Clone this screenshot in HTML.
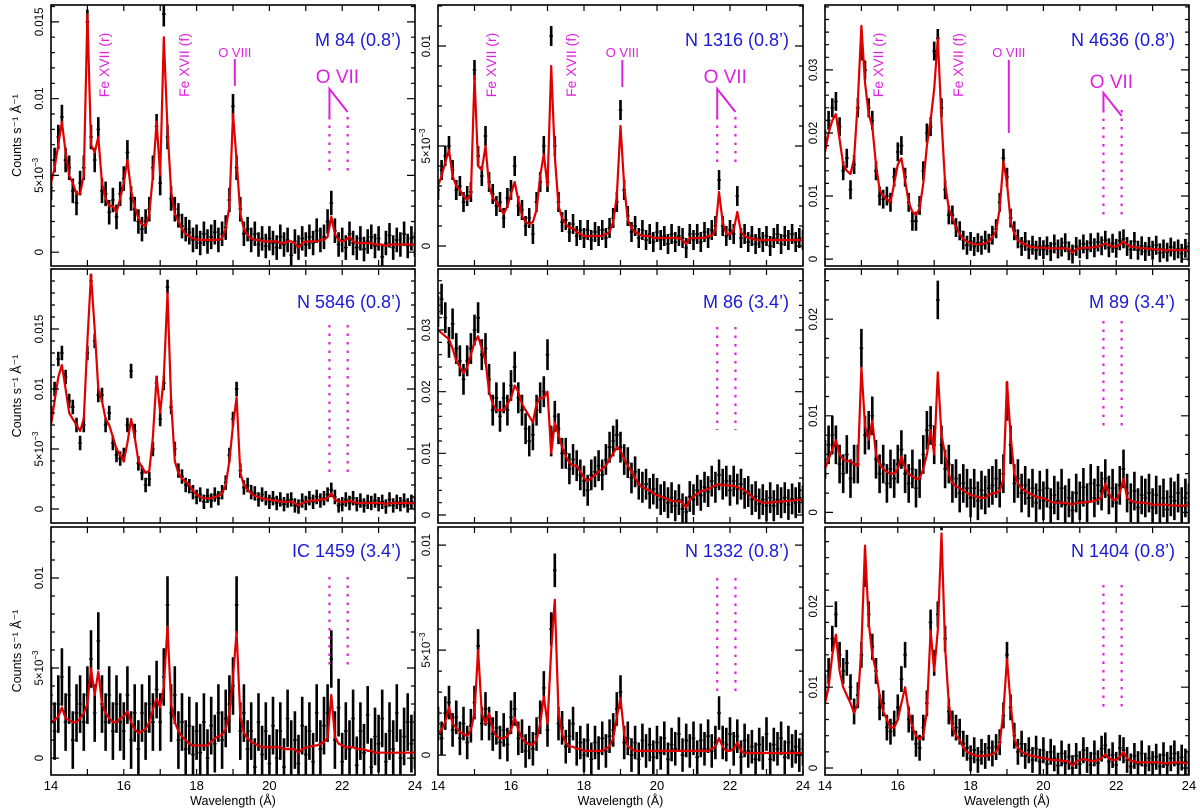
<!DOCTYPE html>
<html><head><meta charset="utf-8"><style>
html,body{margin:0;padding:0;background:#fff;}
svg{display:block;font-family:"Liberation Sans",Arial,sans-serif;}
</style></head><body>
<svg id="chart" width="1200" height="810" viewBox="0 0 1200 810" xmlns="http://www.w3.org/2000/svg"></svg>
<script>
// wavelength grid: 14.0 .. 24.0, step 0.1 (101 bins); values in units of 1e-3 counts/s/Å
const wlStart = 14, wlStep = 0.1;
const xTickLabels = ["14","16","18","20","22","24"];
const galaxyNames = ["M 84 (0.8’)","N 1316 (0.8’)","N 4636 (0.8’)","N 5846 (0.8’)","M 86 (3.4’)","M 89 (3.4’)","IC 1459 (3.4’)","N 1332 (0.8’)","N 1404 (0.8’)"];
const panelErrors = [0.8,0.5,1.5,0.6,2.5,2.0,1.6,0.8,1.6];
const oviiLines = [21.65, 22.15];
const oviiiLine = 19.05;

const m84Model = [4.5,5.5,7,8.5,6.5,5,4.5,3.8,3.8,5, 15.5,7,6.5,7.5,4.5,3.5,3,3,2.6,3.5, 4.5,6,4,3,2.2,1.8,1.7,2.5,5,8.5, 5,14,8,4,2.5,2,1.5,1.2,1,0.9, 0.8,0.8,0.8,0.8,0.8,0.8,0.8,0.9,1.5,3, 9,6,2.5,1.5,1.1,0.9,0.8,0.8,0.7,0.7, 0.7,0.7,0.7,0.6,0.6,0.7,0.7,0.6,0.3,0.6, 0.7,0.7,0.7,0.7,0.8,0.8,1,2.3,1.2,0.8, 0.7,0.8,1,0.7,0.6,0.6,0.6,0.6,0.6,0.5, 0.5,0.5,0.4,0.5,0.5,0.5,0.5,0.5,0.5,0.5, 0.5];
const m84Data = [4.2,6,7.5,8.8,6,5.5,4,3.2,4.5,5.5, 15,7.5,6,8,4,3.8,2.6,3.4,2.3,3.8, 4.8,6.5,3.5,2.8,2,1.5,2,2.8,5.5,8.2, 4.5,15.5,7.5,3.5,2.8,2.4,1.7,1.5,1.3,0.8, 1,0.6,1.2,0.7,1,1.3,0.8,1.2,1.6,3.4, 9.5,5.5,2.8,1.2,1.5,0.8,1.2,0.5,0.9,0.4, 0.9,0.6,0.3,1,0.5,0.8,-0.2,0.7,0.3,0.9, 0.5,1,0.6,1.4,0.8,1,2,3.2,1.4,0.5, 0.8,0.3,1.2,0.6,0.3,0.9,0.2,0.7,1,0.4, 0.9,-0.3,0.6,1.1,0.3,0.8,0.5,1.2,0.4,0.9, 0.5];
const n1316Model = [3,3.5,4.2,4.8,3.5,3,2.8,2.5,2.3,2.6, 8.5,4,3.8,5,3,2.4,2.2,1.9,1.6,2, 2.6,3.2,2.3,1.5,1.2,1.1,1.2,1.8,3.5,4.6, 3,9,4.5,2,1.4,1.1,0.9,0.9,0.7,0.6, 0.5,0.5,0.5,0.5,0.5,0.5,0.6,0.7,1.2,2.5, 6,3,1.3,0.9,0.7,0.6,0.5,0.5,0.5,0.4, 0.4,0.4,0.4,0.4,0.4,0.4,0.4,0.3,0.1,0.4, 0.4,0.4,0.4,0.4,0.5,0.5,0.8,2.7,1.2,0.6, 0.6,0.8,1.7,0.7,0.5,0.4,0.4,0.3,0.3,0.3, 0.3,0.3,0.3,0.3,0.3,0.3,0.3,0.3,0.3,0.3, 0.3];
const n1316Data = [2.8,3.8,4.5,5,3.8,2.8,3,2.2,2.5,2.7, 8.8,4.5,3.5,5.5,3.2,2.6,2,2.2,1.4,2.4, 2.8,4,2,1.8,1,1.4,0.6,2.2,3.2,5, 3.2,10.5,5,2.2,1.2,1.3,0.7,1.1,0.5,0.8, 0.4,0.8,0.3,0.7,0.5,0.8,0.4,0.9,1.4,2.2, 6.8,2.8,1.5,0.7,1,0.4,0.8,0.3,0.6,0.2, 0.7,0.3,0.5,0.1,0.6,0.2,0.5,0.4,-0.1,0.6, 0.3,0.6,0.2,0.7,0.4,0.8,1,3.3,1,0.5, 0.8,0.6,2.5,0.4,0.6,0.2,0.5,0.1,0.4,0.2, 0.5,0,0.4,0.6,0.1,0.5,0.3,0.6,0.2,0.4, 0.3];
const n4636Model = [17,20,22,23,19,15,14,13.5,16,25, 37,28,23,21,15,11,10,9.5,9,12, 15,16,12.5,9,7.5,7,8,12,18,22, 27,35,22,12,8,6.5,5,4,3.2,2.8, 2.5,2.4,2.3,2.4,2.5,2.8,3.5,4.5,8,15.5, 12,6,4,3,2.6,2.3,2,1.9,1.8,1.8, 1.8,1.7,1.7,1.7,1.7,1.7,1.7,1.6,1,1.6, 1.7,1.8,1.8,1.8,1.9,2,2.2,2.5,2.2,2, 2,2.3,2.8,2.3,2,1.9,1.8,1.7,1.7,1.6, 1.6,1.5,1.5,1.5,1.3,1.5,1.4,1.4,1.4,1.4, 1.4];
const n4636Data = [19,22,24,25,21,14,16,11,15,24, 33,30,24,22,14,10,9.5,10,9,13, 17,18,13,9,6,6,8.5,14,20,21, 33,35,24,11,7,7,5,4.5,3,2.2, 2.8,2,2.6,2.2,3,2.5,3.8,4.8,9,16, 13,6.5,4.5,3.2,2,2.8,1.5,2.2,1.4,2, 1.5,2.1,1.2,2.4,1.6,1.9,2.6,1.3,0.8,2, 1.6,2.4,1.5,2.6,1.8,2.7,2.1,3,1.8,2.5, 1.7,2.9,3.2,2,1.5,2.8,1.4,2.1,1.2,2, 1.4,2.2,1,1.6,1.1,1.9,1.3,1.6,0.9,1.7, 1.2];
const n5846Model = [7,9,11,12,10,8,7.5,7,6.5,7.5, 14,19.5,15,10,9,7.5,7,6,5,4.5, 4,5.5,7.5,6,4,3.5,3,3.2,6,11, 8,11,18,9,4,3,2.5,2.3,2,1.5, 1.2,1,0.9,0.9,0.9,1,1.1,1.3,2,4, 7,9.3,3,2,1.6,1.3,1.1,1,0.9,0.8, 0.8,0.7,0.7,0.6,0.6,0.6,0.6,0.5,0.3,0.5, 0.6,0.7,0.7,0.7,0.8,0.8,0.9,1.3,0.8,0.6, 0.6,0.6,0.7,0.6,0.5,0.5,0.5,0.5,0.5,0.5, 0.5,0.5,0.4,0.5,0.5,0.5,0.5,0.5,0.5,0.5, 0.5];
const n5846Data = [8,10,12.5,13,11,9,8.5,7,5.5,7, 13,19,14,9.5,9.5,7,8,5.5,4.5,4.2, 4.5,7,11.5,6.5,3.8,3,2,2.5,5,10.5, 7.5,10.5,18.5,8.5,5,3.2,2.7,2,1.9,1.4, 1,1.2,0.6,1.1,0.7,1.2,0.9,1.4,2.2,4.5, 7.5,10,3.2,1.8,2,1.4,1.3,0.8,1.2,0.9, 0.6,0.9,0.5,0.8,0.4,0.7,0.8,0.3,0.2,0.7, 0.5,0.9,0.6,1,0.7,0.9,1.2,1.6,1,0.3, 0.4,0.8,0.5,0.9,0.4,0.7,0.3,0.6,0.5,0.7, 0.4,0.6,0.2,0.8,0.3,0.6,0.4,0.7,0.3,0.6, 0.5];
const m86Model = [30,29.5,29,28.5,27,25,24,23,24,26, 28,29,27,25,20,18,17,17,17,18, 19,21,20,18,17,16,15,18,19,19, 20,10,15,13,11,9.5,8.5,8,8,7, 6,5.5,6,6.5,7,7.5,8,9,10,11, 10.5,9,8,7,6,5,4.5,4.2,4,3.5, 3.2,3,2.8,2.5,2.3,2.2,2.3,2,1.2,2.5, 3,3.5,3.8,4,4.2,4.5,4.8,5,4.8,4.8, 4.8,4.7,4.5,4.3,4,3.5,3,2.5,2.2,2, 2,2,2.1,2.1,2.2,2.2,2.3,2.3,2.4,2.5, 2.5];
const m86Data = [33,35,32,28,31,27,25,22,25,27, 30,32,26,27,22,17,19,16,19,17, 21,24,19,17,14,12,13,17,19,20, 26,12,16,14,10,10,7.5,9,8,6.5, 5.5,4,6.5,7,8,6.5,9,11,12,13, 11,9,8.5,6,7,5,4.5,5,3.5,4.2, 3.5,2.5,3,2,2.8,1.5,2.5,1,0.5,3, 2.5,4,3.2,4.5,3.8,5.5,4.5,6.5,5,5.5, 4,5.5,4.2,5,3.5,3.8,2.5,3,1.8,2.5, 1.5,2.8,1.5,2.5,2,2.8,1.7,2.6,2,2.8, 2.3];
const m89Model = [4.5,5.5,6.5,7.5,6,5.5,5.3,5.3,5,4.8, 15,9,7.5,9.5,6,5,4.5,4.2,4,4, 4.5,5.8,4.5,4,3.7,3.5,3.5,4.5,6,8.5, 6,14.5,8,6,4,3,2.7,2.5,2.3,2, 1.8,1.7,1.6,1.5,1.5,1.8,2,2,2.2,3.5, 13.5,8,4,3,2.5,2.2,2,1.8,1.6,1.5, 1.5,1.3,1.1,1,1,1,1,0.9,0.8,1, 1,1,1.1,1.1,1.2,1.3,1.6,3,2,1.3, 1.3,2,3.5,1.5,1.2,1.1,1,1,1,0.9, 0.8,0.8,0.8,0.8,0.8,0.7,0.7,0.7,0.7,0.7, 0.7];
const m89Data = [5.5,7,8,7,5,4,6,3.5,5,5, 17,8,8.5,10,5.5,4,5,3,4.5,3.5, 5,6.5,4,3,4.5,2.5,3.5,6,8.5,9, 7,22,7,4.5,5,3,3.5,2,3,2.5, 1.5,2.5,1.2,2.3,1.8,2.5,2.8,3.5,2.5,4, 11.5,7,3,3.5,2,2.8,1.5,2.5,1,2.3, 1.2,2.5,0.5,1.8,1.2,2.5,0.8,1.5,0.2,2, 1.2,2.6,1,3,1.5,2.8,2.2,3.5,1.8,2.5, 1,2.8,4.5,2,1,2.2,0.5,1.8,1.5,2, 0.5,1.8,0.8,1.5,0.3,1.6,1.2,2,0.6,1.5, 1];
const ic1459Model = [2,2.1,2.3,2.8,2.2,2.1,2,2,2.2,2.5, 3,5,3.5,4.8,3,2.5,2.2,2,2,2.2, 2.3,2.6,2,1.6,1.4,1.5,1.6,2,2.7,3.3, 2.8,4,7.3,3,2,1.5,1.2,1,0.8,0.7, 0.7,0.7,0.7,0.7,0.9,1.1,1.2,1.3,1.6,2.5, 4.5,7,2.3,1.4,1.1,0.9,0.8,0.7,0.6,0.6, 0.6,0.6,0.6,0.6,0.5,0.5,0.5,0.5,0.3,0.5, 0.6,0.6,0.7,0.7,0.8,0.9,1.1,3.5,1.2,0.8, 0.7,0.6,0.6,0.6,0.5,0.5,0.5,0.4,0.4,0.3, 0.3,0.3,0.3,0.3,0.3,0.3,0.3,0.3,0.3,0.3, 0.3];
const ic1459Data = [3.5,1.5,3,4.5,2,3.5,1,2.5,3,2, 3.5,5.5,2.5,6.5,3,2,3.5,1.5,3,2, 1.5,3.5,1,2.5,0.5,2.5,1.5,3,2,3.8, 2,4.5,8.5,2.5,3.5,1,2,0.5,1.8,0.2, 1.5,0.3,2,0,1.8,0.8,2.5,1,2.2,3, 4,8.5,1.5,2.5,0.5,1.5,-0.5,2,0.2,1.5, -0.3,1.8,0,1.5,-0.5,2.2,0.5,1,-0.3,1.8, 0.2,1.5,-0.2,2.5,0.5,1.8,2.5,5.5,1,2.8, -0.2,1.5,0.5,2.2,-0.4,1.5,0.3,2.4,-0.5,1.2, 0.8,2.2,-0.2,1.5,0.5,2.5,0,1.2,2,0.8, 1];
const n1332Model = [1,1.2,1.6,2.3,1.5,1.3,1.1,1,0.9,1.2, 2,5,2,1.5,2,1.2,0.9,0.8,0.8,0.9, 1.2,1.8,1.2,0.8,0.6,0.5,0.5,0.7,1.5,2.8, 1.5,5,7.4,2,1,0.6,0.4,0.4,0.3,0.3, 0.2,0.2,0.2,0.2,0.2,0.2,0.3,0.4,0.8,1.8, 2.7,1,0.4,0.3,0.2,0.2,0.2,0.2,0.2,0.2, 0.2,0.2,0.2,0.2,0.2,0.2,0.2,0.2,0.2,0.2, 0.2,0.2,0.2,0.2,0.2,0.3,0.4,0.8,0.4,0.2, 0.2,0.3,0.6,0.2,0.1,0.1,0.1,0.1,0.1,0.1, 0.1,0.1,0.1,0.1,0.1,0.1,0.1,0.1,0.1,0.1, 0.1];
const n1332Data = [1.5,0.8,2,2.5,1.2,1.8,0.8,1.5,0.6,1.4, 2.5,5.2,1.5,2.2,1.5,1,1.3,0.6,1.2,0.5, 1.8,2.2,0.8,0.9,0.2,0.6,0.3,1,1.8,3.2, 1.2,6,8.8,1.5,1.3,0.4,0.9,1.5,0.3,0.6, 0,0.7,-0.2,0.6,0.1,0.8,0.2,0.9,1.2,2.2, 3,0.6,0.8,0,0.6,-0.2,0.7,0.2,0.5,-0.1, 0.6,0.1,0.8,-0.2,0.5,0.3,1,0,0.7,0.2, 0.8,-0.1,0.7,0.3,0.9,0.2,0.6,2,0.6,0.5, 1,0.3,0.9,-0.1,0.7,0.2,0.4,-0.2,0.5,0.1, 1,-0.2,0.5,0.3,0.8,-0.1,0.6,0.2,0.4,0, 0.3];
const n1404Model = [8,10,14,16.5,12,10,9,8,6.8,8, 15,27.5,18,14,12,9,7,6,5,5, 6,8,10,7,5,4,3.5,4,7,17, 12,17,29,15,8,5,4,3.5,2.5,2, 1.8,1.6,1.5,1.5,1.5,1.6,1.7,2,3,7, 13.5,8,3.5,2.5,2,1.8,1.6,1.5,1.4,1.3, 1.2,1.1,1,1,1,0.9,0.9,0.8,0.3,0.8, 1,1.1,1,0.9,0.9,1,1.2,1.7,1.2,1, 1,1.4,2,1.2,0.9,0.8,0.7,0.7,0.7,0.7, 0.7,0.7,0.7,0.6,0.6,0.6,0.7,0.7,0.7,0.6, 0.6];
const n1404Data = [10,12,16,19,14,12,13,10,7,9, 14,24,19,15,12,7.5,8,5,4.5,5.5, 7.5,11,14,6,5,3,2.5,5,8,18, 13,19,31,16,7,5.5,5,4.5,3,2.5, 1.2,2.2,1,2,1.5,2.5,1.8,2.6,3.2,6.5, 14,7.5,4,2,3,1.5,2.2,1,2.4,0.8, 2.2,0.5,2,1.2,0.3,1.8,0.6,1.4,0,1.5, 0.5,2.2,1,0.4,1.8,0.6,2.4,2.8,0.8,1.6, 0.4,2.5,2.2,1,0.2,1.5,0.5,1.8,0.3,1.2, 0.5,1.4,0.2,1.6,0.4,1.2,1.8,0.5,1.3,0.8, 0.6];

const models = [m84Model,n1316Model,n4636Model,n5846Model,m86Model,m89Model,ic1459Model,n1332Model,n1404Model];
const datas = [m84Data,n1316Data,n4636Data,n5846Data,m86Data,m89Data,ic1459Data,n1332Data,n1404Data];

// layout
const colX = [[51,415],[438,803],[825,1189]];
const rowY = [[5,266],[269,523],[527,775]];
const yRanges = [[-0.9,16.1],[-1.0,12.05],[-1.1,40.3],[-1.17,20.0],[-1.3,39.9],[-1.1,25.2],[-0.94,12.83],[-0.95,10.86],[-0.86,29.8]];
const yMajor = [[0,5,10,15],[0,5,10],[0,10,20,30],[0,5,10,15],[0,10,20,30],[0,10,20],[0,5,10],[0,5,10],[0,10,20]];
const yMinorStep = [1,1,2,1,2,2,1,1,2];
const dotRanges = [[117,175],[117,167],[110,215],[325,474],[327,430],[321,426],[577,670],[578,693],[585,712]];
const oviiiRanges = [[59,86],[60,87],[60,133]];
const MAG = "#dd22dd";

const svg = document.getElementById('chart');
const NS = "http://www.w3.org/2000/svg";
function mk(tag, attrs, parent){const e=document.createElementNS(NS,tag);for(const k in attrs)e.setAttribute(k,attrs[k]);(parent||svg).appendChild(e);return e;}

function tickLabel(v){
  if(v===0) return {t:"0"};
  if(v===5) return {t:"5×10",sup:"−3"};
  return {t:String(+(v/1000).toFixed(3))};
}

for(let p=0;p<9;p++){
  const c=p%3, r=Math.floor(p/3);
  const [x0,x1]=colX[c], [y0,y1]=rowY[r];
  const [ymin,ymax]=yRanges[p];
  const sx = w => x0 + (w-14)/10*(x1-x0);
  const sy = v => y1 - (v-ymin)/(ymax-ymin)*(y1-y0);
  const g = mk('g',{});
  
  
  const cid='clip'+p;
  const cp=mk('clipPath',{id:cid},g); mk('rect',{x:x0,y:y0,width:x1-x0,height:y1-y0},cp);

  // data with error bars (thick bars to mimic dense binning)
  const dg=mk('g',{'clip-path':'url(#'+cid+')',fill:'#000'},g);
  
  
  const d=datas[p], err=panelErrors[p];
  let path='';
  for(let i=0;i<d.length;i++){
    const w=wlStart+i*wlStep, xc=sx(w);
    const ya=sy(d[i]+err), yb=sy(d[i]-err);
    path+=`M${(xc-1.3).toFixed(1)},${ya.toFixed(1)}H${(xc+1.3).toFixed(1)}V${yb.toFixed(1)}H${(xc-1.3).toFixed(1)}Z`;
    const yd=sy(d[i]);
    path+=`M${sx(w-wlStep/2).toFixed(1)},${(yd-0.8).toFixed(1)}H${sx(w+wlStep/2).toFixed(1)}V${(yd+0.8).toFixed(1)}H${sx(w-wlStep/2).toFixed(1)}Z`;
  }
  const dp=mk('path',{d:path},dg);
  
  

  // model
  const m=models[p];
  const pts=m.map((v,i)=>sx(wlStart+i*wlStep).toFixed(1)+','+sy(v).toFixed(1)).join(' ');
  const ml=mk('polyline',{points:pts,fill:'none',stroke:'#e00000','stroke-width':2.2,'stroke-linejoin':'round','clip-path':'url(#'+cid+')'},g);
  
  

  // frame
  const fr=mk('rect',{x:x0,y:y0,width:x1-x0,height:y1-y0,fill:'none',stroke:'#000','stroke-width':1.6},g);
  
  

  // ticks
  let tp='';
  for(let w=14;w<=24;w++){const xx=sx(w);tp+=`M${xx},${y1}v-6M${xx},${y0}v6`;}
  const st=yMinorStep[p];
  for(let v=0;v<=ymax;v+=st){
    const yy=sy(v), maj=yMajor[p].includes(v);
    const L=maj?8:4;
    tp+=`M${x0},${yy.toFixed(1)}h${L}M${x1},${yy.toFixed(1)}h-${L}`;
  }
  const tk=mk('path',{d:tp,stroke:'#000','stroke-width':1.2,fill:'none'},g);
  
  

  yMajor[p].forEach(v=>{
    const lab=tickLabel(v);
    const t=mk('text',{transform:`translate(${x0-8},${sy(v).toFixed(1)}) rotate(-90)`,'text-anchor':'middle','font-size':11.5,fill:'#000'},g);
    t.textContent=lab.t;
    if(lab.sup){const s=mk('tspan',{'font-size':8,dy:-5},t);s.textContent=lab.sup;}
    
    
  });

  // galaxy label
  const gl=mk('text',{x:x1-14,y:y0+(r===0?41:r===1?39:30),'text-anchor':'end','font-size':18,fill:'#1a1ad8'},g);
  gl.textContent=galaxyNames[p];
  
  

  // O VII dotted lines
  const [dt,db]=dotRanges[p];
  oviiLines.forEach(w=>{
    const l=mk('line',{x1:sx(w),x2:sx(w),y1:dt,y2:db,stroke:MAG,'stroke-width':2.2,'stroke-dasharray':'2.5,6'},g);
    
    
  });

  if(r===0){
    const xr=sx(15.45), xf=sx(17.65);
    [[xr,"Fe XVII (r)"],[xf,"Fe XVII (f)"]].forEach(([xx,s])=>{
      const t=mk('text',{transform:`translate(${xx+5},${y0+60}) rotate(-90)`,'text-anchor':'middle','font-size':14,fill:MAG},g);
      t.textContent=s;
      
      
    });
    const xo=sx(oviiiLine);
    const ot=mk('text',{x:xo,y:y0+52,'text-anchor':'middle','font-size':13,fill:MAG},g);
    ot.textContent="O VIII";
    
    
    const [a,b]=oviiiRanges[c];
    const ol=mk('line',{x1:xo,x2:xo,y1:a,y2:b,stroke:MAG,'stroke-width':2},g);
    
    
    const xa=sx(oviiLines[0]), xb=sx(oviiLines[1]);
    const vt=mk('text',{x:xa+8,y:y0+(c===2?83:78),'text-anchor':'middle','font-size':19,fill:MAG},g);
    vt.textContent="O VII";
    
    
    const top=y0+(c===2?88:84);
    const vl=mk('path',{d:`M${xa},${dt}V${top}L${xb},${top+23}`,stroke:MAG,'stroke-width':2,fill:'none'},g);
    
    
  }

  if(c===0){
    const yt=mk('text',{transform:`translate(21,${(y0+y1)/2}) rotate(-90)`,'text-anchor':'middle','font-size':12.5,fill:'#000'},g);
    yt.textContent="Counts s⁻¹ Å⁻¹";
    
    
  }
  if(r===2){
    xTickLabels.forEach(s=>{
      const t=mk('text',{x:sx(+s),y:790,'text-anchor':'middle','font-size':13,fill:'#000'},g);
      t.textContent=s;
      
      
    });
    const xt=mk('text',{x:(x0+x1)/2,y:805,'text-anchor':'middle','font-size':12.5,fill:'#000'},g);
    xt.textContent="Wavelength (Å)";
    
    
  }
}
</script>
</body></html>
